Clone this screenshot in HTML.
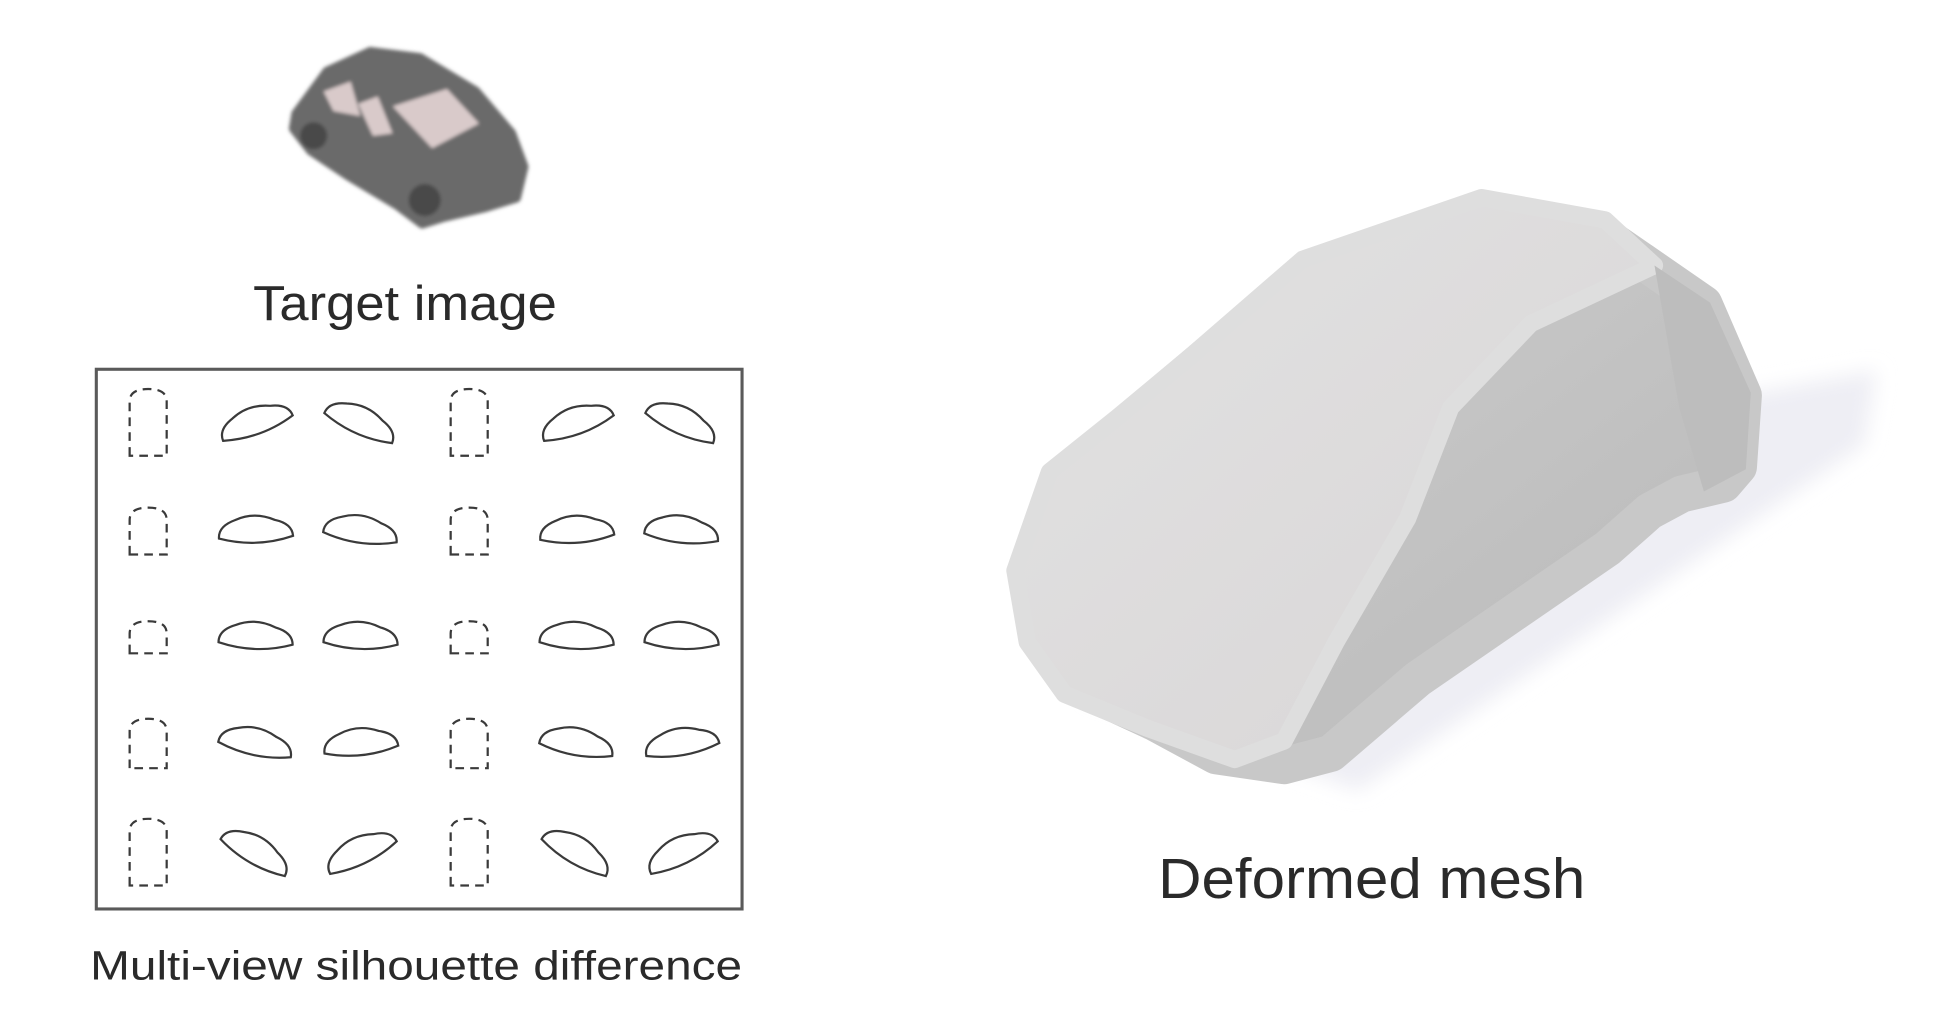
<!DOCTYPE html>
<html><head><meta charset="utf-8"><style>
html,body{margin:0;padding:0;background:#fff;}
svg{display:block;}
text{font-family:"Liberation Sans",sans-serif;fill:#2a2a2a;}
</style></head><body>
<svg id="fig" width="1936" height="1030" viewBox="0 0 1568 834" preserveAspectRatio="none" xmlns="http://www.w3.org/2000/svg">
<defs>
<linearGradient id="meshTop" x1="0" y1="0" x2="1" y2="1">
<stop offset="0" stop-color="#e2e2e2"/><stop offset="1" stop-color="#d8d5d6"/></linearGradient>
<linearGradient id="meshSide" x1="0" y1="0" x2="1" y2="1">
<stop offset="0" stop-color="#cfcfcf"/><stop offset="1" stop-color="#b8b8b8"/></linearGradient>
<filter id="blur"><feGaussianBlur stdDeviation="8"/></filter>
<filter id="soft"><feGaussianBlur stdDeviation="1.5"/></filter>
</defs>
<g filter="url(#soft)">
<path d="M240,92 L265,58 L300,42 L340,47 L385,74 L414,108 L424,135 L418,160 L392,168 L358,176 L342,181 L322,166 L282,142 L252,122 L238,104 Z" fill="#6a6a6a" stroke="#6a6a6a" stroke-width="8" stroke-linejoin="round"/>
<path d="M318,86 L362,72 L388,100 L350,120 Z" fill="#d9caca"/>
<path d="M290,84 L306,78 L318,108 L302,110 Z" fill="#d9caca"/>
<path d="M262,74 L284,66 L292,94 L270,90 Z" fill="#d9caca"/>
<circle cx="254" cy="110" r="11" fill="#4a4a4a"/>
<circle cx="344" cy="162" r="13" fill="#4a4a4a"/>
</g>
<text x="328" y="259" font-size="40" text-anchor="middle" textLength="246" lengthAdjust="spacingAndGlyphs">Target image</text>
<rect x="78" y="299" width="523" height="437" fill="#fff" stroke="#5a5a5a" stroke-width="2.5"/>
<g id="sil"></g>
<text x="73" y="793" font-size="33" textLength="528" lengthAdjust="spacingAndGlyphs">Multi-view silhouette difference</text>
<g>
<path d="M880,560 L1350,330 L1520,300 L1510,360 L1100,640 Z" fill="#eeeef4" filter="url(#blur)"/>
<g stroke-linejoin="round" stroke-width="30">
<path d="M840,515 L835,462 L860,392 L910,345 L968,296 L1058,220 L1200,172 L1296,188 L1380,246 L1412,320 L1408,378 L1396,392 L1362,400 L1336,414 L1302,444 L1148,550 L1078,610 L1040,620 L985,612 L935,585 L866,553 Z" fill="url(#meshSide)" stroke="#c8c8c8"/>
</g>
<path d="M832,520 L822,462 L850,382 L905,338 L965,288 L1055,210 L1200,160 L1300,178 L1340,215 L1240,262 L1175,330 L1140,420 L1082,520 L1040,600 L1000,615 L930,590 L862,562 Z" fill="url(#meshTop)" stroke="#dedede" stroke-width="14" stroke-linejoin="round"/>
<path d="M1340,215 L1385,245 L1418,318 L1414,380 L1380,398 L1360,330 Z" fill="#bdbdbd"/>
</g>
<text x="1111" y="727" font-size="46" text-anchor="middle" textLength="346" lengthAdjust="spacingAndGlyphs">Deformed mesh</text>
</svg>
<script>
const colX=[120,207,292,380,467,552];
const rowY=[342,430,516,602,690];
const sideAngles=[[-22,22,-22,22],[-4,6,-6,4],[0,0,0,0],[10,-8,8,-12],[28,-28,28,-28]];
const frontH=[54,38,26,40,54];
const g=document.getElementById('sil');
const NS='http://www.w3.org/2000/svg';
rowY.forEach((y,r)=>{
  colX.forEach((x,c)=>{
    const p=document.createElementNS(NS,'path');
    let d,tr='';
    if(c===0||c===3){
      const h=frontH[r],w=30;
      d=`M${x-w/2},${y+h/2} L${x-w/2},${y-h/2+10} Q${x-w/2},${y-h/2} ${x},${y-h/2} Q${x+w/2},${y-h/2} ${x+w/2},${y-h/2+10} L${x+w/2},${y+h/2} Z`;
      p.setAttribute('stroke-dasharray','7 5');
    } else {
      const a=sideAngles[r][c<3?c-1:c-2];
      d=`M${x-30},${y+4} Q${x-30},${y-6} ${x-16},${y-10} Q${x},${y-16} ${x+16},${y-8} Q${x+30},${y-4} ${x+30},${y+6} Q${x},${y+14} ${x-30},${y+4} Z`;
      tr=`rotate(${a} ${x} ${y})`;
    }
    p.setAttribute('d',d);
    if(tr)p.setAttribute('transform',tr);
    p.setAttribute('fill','none');
    p.setAttribute('stroke','#3a3a3a');
    p.setAttribute('stroke-width','1.8');
    
    
    g.appendChild(p);
  });
});
</script>
</body></html>
